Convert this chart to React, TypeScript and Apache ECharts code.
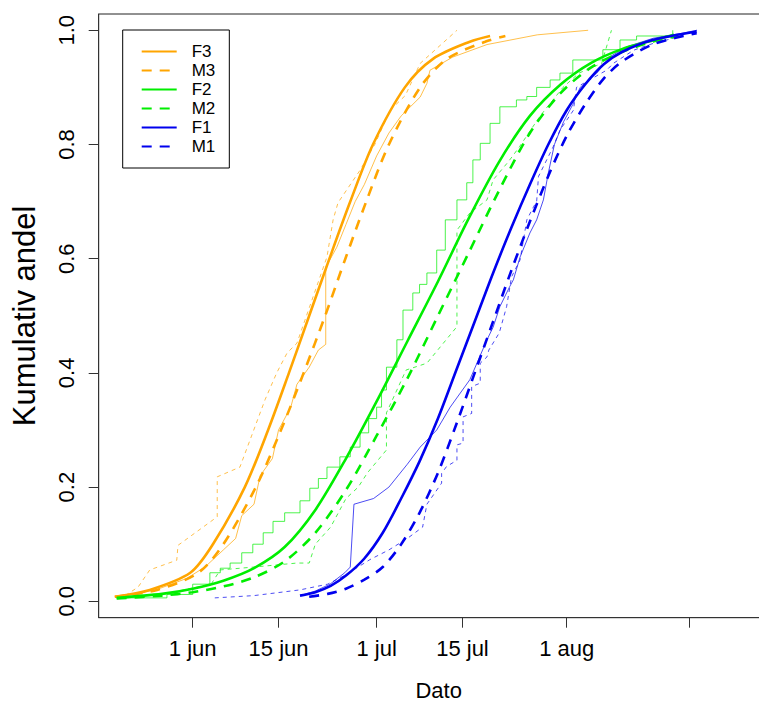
import React, { useEffect, useRef } from "react";
import * as echarts from "echarts";

// x values are days counted from 1 June
const tickDays = [0, 14, 30, 44, 61];
const tickLabels = ["1 jun", "15 jun", "1 jul", "15 jul", "1 aug"];
const extraTickDays = [81];
const yTicks = [0, 0.2, 0.4, 0.6, 0.8, 1.0];
const yTickLabels = ["0.0", "0.2", "0.4", "0.6", "0.8", "1.0"];
const legendNames = ["F3", "M3", "F2", "M2", "F1", "M1"];

// fitted curves (thick)
const f3Fit = [[-12.7,0.008],[-7,0.02],[-0.4,0.05],[3.3,0.1],[8.5,0.2],[12.3,0.3],[15.7,0.4],[19.0,0.5],[22.3,0.6],[25.7,0.7],[29.4,0.8],[34.6,0.9],[39.2,0.95],[45.2,0.98],[48.5,0.99]];
const m3Fit = [[-12.7,0.008],[-5.8,0.02],[0.9,0.05],[5,0.1],[10.3,0.2],[14.4,0.3],[18.1,0.4],[21.6,0.5],[24.9,0.6],[28.3,0.7],[32,0.8],[37.1,0.9],[41.5,0.95],[47.7,0.98],[51,0.99]];
const f2Fit = [[-12.4,0.006],[-5,0.013],[0,0.022],[5,0.036],[10,0.058],[15,0.095],[20,0.16],[25,0.25],[30,0.35],[35,0.455],[40,0.56],[45,0.67],[50,0.77],[55,0.85],[60,0.905],[65,0.943],[70,0.967],[75,0.982],[78.5,0.992]];
const m2Fit = [[-12.4,0.005],[-5,0.01],[0,0.016],[5,0.026],[10,0.042],[15,0.07],[20,0.12],[25,0.195],[30,0.29],[35,0.39],[40,0.5],[45,0.61],[50,0.72],[55,0.82],[60,0.89],[65,0.935],[70,0.962],[75,0.98],[79,0.99]];
const f1Fit = [[17.5,0.01],[20,0.016],[22.5,0.027],[25,0.045],[28,0.075],[31,0.12],[34,0.18],[37,0.245],[40,0.32],[43,0.405],[46,0.49],[49,0.575],[52,0.655],[55,0.73],[58,0.8],[61,0.86],[64,0.905],[67,0.94],[70,0.962],[75,0.983],[82.2,0.998]];
const m1Fit = [[19,0.008],[22,0.013],[25,0.022],[28,0.038],[31,0.06],[34,0.1],[37,0.155],[40,0.225],[43,0.31],[46,0.4],[49,0.49],[52,0.58],[55,0.665],[58,0.745],[61,0.815],[64,0.87],[67,0.915],[70,0.945],[75,0.975],[80,0.99],[82.2,0.995]];

// observed cumulative shares (thin)
const f3Obs = [[-12.7,0.008],[-6,0.02],[-1,0.04],[2,0.06],[5,0.09],[7,0.11],[8,0.15],[10,0.17],[11,0.22],[13,0.25],[14,0.3],[16,0.34],[17,0.38],[19,0.41],[20.5,0.44],[21.7,0.45],[21.7,0.585],[23.5,0.62],[25,0.66],[26.5,0.7],[28,0.73],[30,0.78],[32,0.82],[34,0.85],[37.1,0.883],[38.2,0.907],[38.7,0.93],[42.4,0.953],[48,0.975],[56.2,0.992],[64.5,1.0]];
const m3Obs = [[-11,0.01],[-8.9,0.025],[-7,0.055],[-2.6,0.072],[-2.4,0.098],[4,0.148],[4,0.218],[7.7,0.235],[11.8,0.353],[13.7,0.4],[15.4,0.435],[17,0.452],[21.9,0.603],[22.9,0.668],[23.7,0.698],[27.3,0.755],[29.7,0.8],[32.2,0.86],[34.7,0.886],[37.1,0.942],[43.1,1.0]];
const f2Obs = [[-12.35,0.006],[-4.2,0.012],[0,0.03],[2.8,0.05],[4.5,0.058],[6.1,0.067],[8,0.085],[9.8,0.1],[11.5,0.12],[13.1,0.14],[15,0.155],[17.5,0.176],[19.1,0.198],[20.5,0.215],[21.9,0.235],[24,0.253],[25.7,0.27],[27.3,0.295],[28.7,0.32],[30,0.34],[30.8,0.37],[31.6,0.41],[33.3,0.458],[34.3,0.51],[35.9,0.54],[37,0.555],[38.2,0.575],[39.8,0.615],[41.2,0.668],[43.1,0.703],[44.7,0.733],[45.7,0.773],[46.9,0.802],[48.5,0.837],[50.1,0.866],[52.8,0.878],[54.5,0.884],[56.1,0.9],[58.3,0.913],[59.9,0.925],[62,0.948],[66.9,0.966],[69.7,0.983],[72.4,0.99],[78.3,1.0]];
const m2Obs = [[-12.4,0.006],[-5,0.012],[3,0.03],[4.5,0.055],[10,0.06],[17,0.067],[19,0.067],[20,0.1],[22.5,0.13],[25,0.18],[27,0.2],[28.5,0.225],[31.6,0.265],[31.6,0.33],[34.8,0.405],[38.2,0.417],[43.1,0.481],[43.1,0.65],[45.2,0.68],[48,0.703],[49,0.738],[51.5,0.77],[53.3,0.796],[56.6,0.849],[60.4,0.9],[63,0.925],[66.7,0.942],[68.3,1.0]];
const f1Obs = [[17.5,0.01],[20,0.018],[22.4,0.03],[24.8,0.05],[25.7,0.06],[26.3,0.17],[29.5,0.18],[32,0.2],[35,0.24],[37.1,0.27],[39.8,0.3],[42,0.34],[45.2,0.388],[48,0.458],[49,0.48],[50.1,0.516],[51.7,0.551],[52.3,0.563],[53.4,0.603],[55,0.645],[56.1,0.668],[57.2,0.703],[58,0.75],[59,0.8],[60.5,0.84],[62,0.87],[63.2,0.9],[65.9,0.925],[68.1,0.954],[70.8,0.971],[75.1,0.986],[79.5,0.994],[82.2,1.0]];
const m1Obs = [[3.6,0.006],[10,0.01],[17.5,0.02],[22,0.03],[24.9,0.046],[28.9,0.073],[32,0.09],[35,0.11],[37.5,0.13],[38.2,0.17],[39.5,0.19],[40.6,0.207],[40.6,0.224],[41.4,0.236],[43.1,0.247],[43.1,0.274],[44.1,0.277],[44.1,0.323],[45.5,0.329],[45.5,0.376],[46.9,0.382],[46.9,0.417],[48,0.428],[48.3,0.44],[50,0.47],[51.2,0.516],[52,0.568],[53.4,0.598],[54.5,0.668],[55.6,0.691],[56.1,0.7],[56.4,0.744],[58.8,0.796],[59.9,0.825],[62.1,0.86],[62.6,0.9],[67.5,0.93],[68.6,0.942],[71.9,0.965],[75.1,0.977],[78.4,0.986],[82.2,1.0]];

const ORANGE = "#FFA500";
const GREEN = "#00EE00";
const BLUE = "#0000EE";
const FONT = "'Liberation Sans', Arial, sans-serif";

function fit(name: string, data: number[][], color: string, dashed: boolean) {
  return {
    type: "line", name, data, smooth: 0.3,
    showSymbol: false, symbol: "circle", z: 4, silent: true,
    lineStyle: { color, width: 2.6, type: dashed ? [10, 8] : "solid" },
    itemStyle: { color },
  };
}
function obs(name: string, data: number[][], color: string, dashed: boolean, step?: string) {
  return {
    type: "line", name, data, step: step || false,
    showSymbol: false, symbol: "circle", z: 3, silent: true,
    lineStyle: { color, width: 1, opacity: 0.7, type: dashed ? [4, 4] : "solid" },
    itemStyle: { color },
  };
}

function lab(vals: number[], labels: string[]) {
  return (v: number) => {
    const i = vals.findIndex((t) => Math.abs(t - v) < 1e-6);
    return i >= 0 ? labels[i] : "";
  };
}

export default function App() {
  const ref = useRef<HTMLDivElement>(null);
  useEffect(() => {
    document.body.style.margin = "0";
    const chart = echarts.init(ref.current!, null, { renderer: "svg" });
    const pxPerDay = 6.131;
    const left = 98.7;
    const width = 680;
    const xMin = (left - 192.7) / pxPerDay;
    const xMax = xMin + width / pxPerDay;
    chart.setOption({
      animation: false,
      backgroundColor: "#ffffff",
      grid: { left, top: 14, width, bottom: 84.3, outerBoundsMode: "none", containLabel: false, show: true, borderColor: "#222", borderWidth: 1, backgroundColor: "transparent" },
      legend: {
        data: legendNames, orient: "vertical", left: 122.7, top: 30,
        padding: [13, 14, 13, 18], itemWidth: 35, itemHeight: 14, itemGap: 2,
        borderColor: "#000", borderWidth: 1, borderRadius: 0, selectedMode: false,
        itemStyle: { opacity: 0 },
        textStyle: { fontFamily: FONT, fontSize: 17, color: "#000", padding: [0, 0, 0, 10] },
      },
      xAxis: {
        type: "value", min: xMin, max: xMax,
        name: "Dato", nameLocation: "middle", nameGap: 62,
        nameTextStyle: { fontFamily: FONT, fontSize: 22, color: "#000" },
        axisLine: { show: true, onZero: false, lineStyle: { color: "#333", width: 1 } },
        axisTick: { show: true, length: 10, customValues: tickDays.concat(extraTickDays), lineStyle: { color: "#333" } },
        axisLabel: { customValues: tickDays, formatter: lab(tickDays, tickLabels), margin: 20, fontFamily: FONT, fontSize: 22, color: "#000" },
        splitLine: { show: false },
      },
      yAxis: {
        type: "value", min: -0.0287, max: 1.0285,
        name: "Kumulativ andel", nameLocation: "middle", nameGap: 58.7, nameRotate: 90,
        nameTextStyle: { fontFamily: FONT, fontSize: 31, color: "#000" },
        axisLine: { show: true, onZero: false, lineStyle: { color: "#333", width: 1 } },
        axisTick: { show: true, length: 10, customValues: yTicks, lineStyle: { color: "#333" } },
        axisLabel: { customValues: yTicks, formatter: lab(yTicks, yTickLabels), rotate: 90, margin: 21, fontFamily: FONT, fontSize: 22, color: "#000" },
        splitLine: { show: false },
      },
      series: [
        obs("F3 obs", f3Obs, ORANGE, false),
        obs("M3 obs", m3Obs, ORANGE, true),
        obs("F2 obs", f2Obs, GREEN, false, "end"),
        obs("M2 obs", m2Obs, GREEN, true),
        obs("F1 obs", f1Obs, BLUE, false),
        obs("M1 obs", m1Obs, BLUE, true),
        fit("F3", f3Fit, ORANGE, false),
        fit("M3", m3Fit, ORANGE, true),
        fit("F2", f2Fit, GREEN, false),
        fit("M2", m2Fit, GREEN, true),
        fit("F1", f1Fit, BLUE, false),
        fit("M1", m1Fit, BLUE, true),
      ],
    });
    return () => chart.dispose();
  }, []);
  return <div ref={ref} style={{ width: 759, height: 702 }} />;
}
